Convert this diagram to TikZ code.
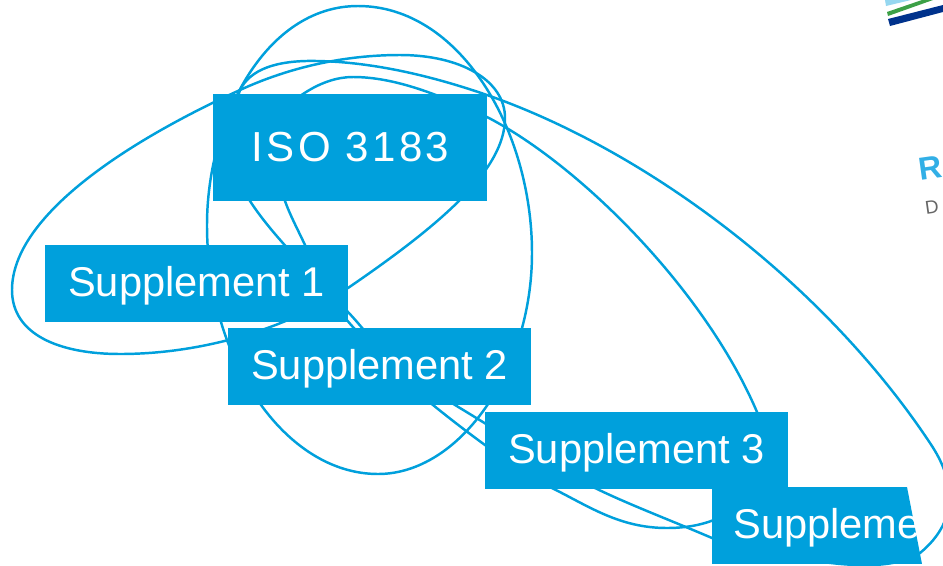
\documentclass[tikz,border=0pt]{standalone}
\usepackage{fontspec}
\setmainfont{Liberation Sans}
\newfontfamily\isofont[LetterSpace=8]{Liberation Sans}
\definecolor{isoblue}{RGB}{0,160,220}
\definecolor{logonavy}{RGB}{0,50,140}
\definecolor{logogreen}{RGB}{60,160,70}
\definecolor{logosky}{RGB}{150,215,240}
\definecolor{logor}{RGB}{50,175,230}
\tikzset{
  loopline/.style={draw=isoblue,line width=1.85pt},
  isobox/.style={fill=isoblue,text=white,inner sep=0pt,font=\fontsize{31.2}{37}\selectfont},
  suppbox/.style={isobox,minimum width=227.25pt,minimum height=57.75pt,text depth=2.5pt}
}
\begin{document}
\begin{tikzpicture}[x=0.75pt,y=-0.75pt]
\useasboundingbox (0,0) rectangle (943,565);
% logo fragments
\fill[logosky] (885,0) -- (911,0) -- (886,6) -- cycle;
\fill[logogreen] (887,12) -- (922,0) -- (933,0) -- (888,16) -- cycle;
\fill[logonavy] (888,19) -- (943,5) -- (943,12) -- (890,26) -- cycle;
\node[rotate=8,text=logor,font=\bfseries\fontsize{24}{28}\selectfont,anchor=west,inner sep=0pt] (logoR) at (919,170) {R};
\node[rotate=8,text=black!60,font=\fontsize{14}{16}\selectfont,anchor=west,inner sep=0pt] (logoD) at (925,208) {D};
% loops behind the boxes
\draw[loopline] (12,290) .. controls (12,215) and (130,140) .. (240,90)
  .. controls (290,67) and (345,55) .. (400,55)
  .. controls (460,55) and (505,80) .. (505,118)
  .. controls (505,170) and (440,225) .. (348,288)
  .. controls (295,324) and (210,354) .. (120,354)
  .. controls (60,354) and (12,335) .. (12,290) -- cycle;
\draw[loopline] (358,6) .. controls (265,6) and (207,120) .. (207,225)
  .. controls (207,360) and (285,474) .. (378,474)
  .. controls (460,474) and (532,370) .. (532,253)
  .. controls (532,130) and (460,6) .. (358,6) -- cycle;
\draw[loopline] (353,77) .. controls (395,77) and (440,95) .. (487,117)
  .. controls (580,165) and (705,290) .. (757,412)
  .. controls (777,475) and (745,528) .. (667,528)
  .. controls (620,528) and (590,507) .. (552,488)
  .. controls (520,472) and (470,435) .. (433,405)
  .. controls (400,378) and (370,335) .. (348,312)
  .. controls (310,272) and (272,235) .. (250,201)
  .. controls (228,165) and (290,77) .. (353,77) -- cycle;
\draw[loopline] (240,90) .. controls (250,70) and (275,60) .. (317,61)
  .. controls (375,62) and (435,77) .. (487,95)
  .. controls (650,152) and (825,285) .. (930,443)
  .. controls (955,480) and (960,520) .. (920,553)
  .. controls (890,572) and (830,570) .. (712,538)
  .. controls (670,520) and (630,505) .. (595,488)
  .. controls (550,465) and (500,432) .. (455,405)
  .. controls (405,372) and (335,335) .. (305,245)
  .. controls (297,228) and (290,215) .. (285,201)
  .. controls (270,150) and (228,125) .. (240,90) -- cycle;
% boxes
\fill[isoblue] (213,94) rectangle (487,201);
\node[text=white,inner sep=0pt,font=\isofont\fontsize{31.5}{38}\selectfont] (iso) at (350.5,147) {ISO 3183};
\node[suppbox] (s1) at (196.5,283.5) {Supplement 1};
\node[suppbox] (s2) at (379.5,366.5) {Supplement 2};
\node[suppbox] (s3) at (636.5,450.5) {Supplement 3};
\begin{scope}
\clip (712,487) -- (907,487) -- (922,564) -- (712,564) -- cycle;
\fill[isoblue] (712,487) rectangle (922,564);
\node[text=white,inner sep=0pt,anchor=base west,font=\fontsize{31.2}{37}\selectfont] (s4) at (733,538) {Suppleme};
\end{scope}
\end{tikzpicture}
\end{document}
